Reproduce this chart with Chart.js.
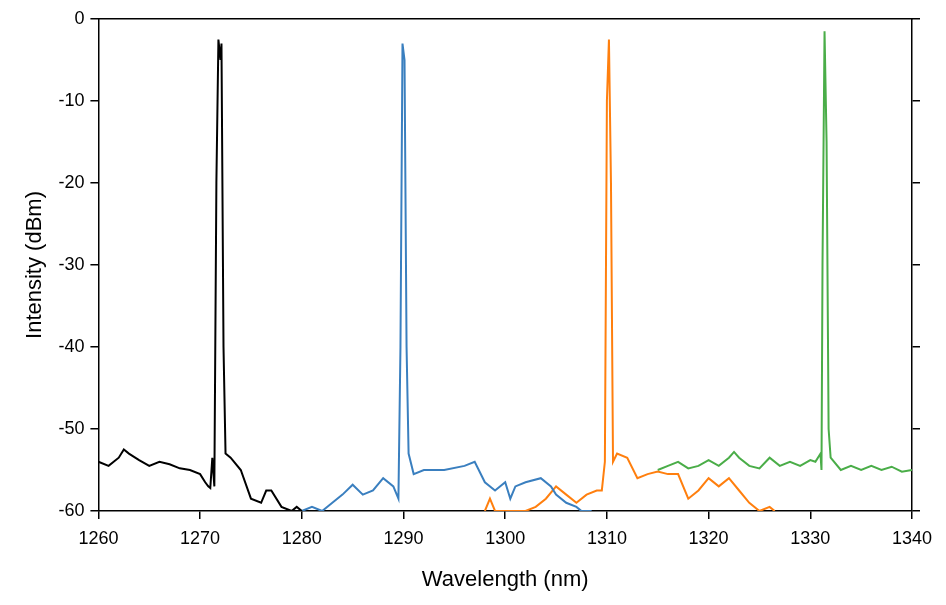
<!DOCTYPE html>
<html><head><meta charset="utf-8">
<script src="https://cdn.jsdelivr.net/npm/chart.js@4"></script>
<style>body{margin:0;background:#fff}#wrap{width:946px;height:605px}</style>
</head><body><div id="wrap"><canvas id="c"></canvas></div>
<script>
const xTicks = [1260, 1270, 1280, 1290, 1300, 1310, 1320, 1330, 1340];
const yTicks = [0, -10, -20, -30, -40, -50, -60];

const blackX = [1260,1261,1262,1262.5,1263,1264,1265,1266,1267,1268,1269,1270,1270.5,1270.8,1271,1271.2,1271.4,1271.6,1271.8,1272,1272.1,1272.3,1272.5,1273,1274,1275,1276,1276.5,1277,1278,1279,1279.5,1280];
const blackY = [-54,-54.5,-53.5,-52.5,-53,-53.8,-54.5,-54,-54.3,-54.8,-55,-55.5,-56.5,-57,-57.2,-53.5,-57,-20,-2.5,-5,-3,-40,-53,-53.5,-55,-58.5,-59,-57.5,-57.5,-59.5,-60,-59.5,-60];

const blueX = [1280,1281,1282,1283,1284,1285,1286,1287,1288,1289,1289.5,1289.7,1289.9,1290.1,1290.3,1290.5,1291,1292,1294,1296,1297,1298,1299,1300,1300.5,1301,1302,1303.5,1304.5,1305,1306,1307,1307.5,1308.5];
const blueY = [-60,-59.5,-60,-59,-58,-56.8,-58,-57.5,-56,-57,-58.5,-40,-3,-5,-40,-53,-55.5,-55,-55,-54.5,-54,-56.5,-57.5,-56.5,-58.5,-57,-56.5,-56,-57,-58,-59,-59.5,-60,-60];

const orangeX = [1298,1298.5,1299,1300,1302,1303,1304,1305,1306,1307,1308,1309,1309.5,1309.8,1310,1310.2,1310.4,1310.6,1311,1312,1313,1314,1315,1316,1317,1318,1319,1320,1321,1322,1323,1324,1325,1326,1326.5];
const orangeY = [-60,-58.5,-60,-60,-60,-59.5,-58.5,-57,-58,-59,-58,-57.5,-57.5,-54,-10,-2.5,-20,-54,-53,-53.5,-56,-55.5,-55.2,-55.5,-55.5,-58.5,-57.5,-56,-57,-56,-57.5,-59,-60,-59.5,-60];

const greenX = [1315,1316,1317,1318,1319,1320,1321,1322,1322.5,1323,1324,1325,1326,1327,1328,1329,1330,1330.5,1331,1331.1,1331.2,1331.4,1331.6,1331.8,1332,1333,1334,1335,1336,1337,1338,1339,1340];
const greenY = [-55,-54.5,-54,-54.8,-54.5,-53.8,-54.5,-53.5,-52.8,-53.5,-54.5,-54.8,-53.5,-54.5,-54,-54.5,-53.8,-54,-53,-55,-30,-1.5,-15,-50,-53.5,-55,-54.5,-55,-54.5,-55,-54.6,-55.2,-55];

function pts(xs, ys) { return xs.map((x, i) => ({ x, y: ys[i] })); }
function ds(xs, ys, color) {
    return { data: pts(xs, ys), borderColor: color, borderWidth: 2, pointRadius: 0, tension: 0, fill: false };
}

const tickFont = { family: 'Liberation Sans, Arial', size: 18 };
const titleFont = { family: 'Liberation Sans, Arial', size: 22 };

new Chart(document.getElementById('c'), {
    type: 'line',
    data: {
        datasets: [
            ds(blackX, blackY, '#000000'),
            ds(blueX, blueY, '#3a7fbf'),
            ds(orangeX, orangeY, '#ff7f0e'),
            ds(greenX, greenY, '#4aad48')
        ]
    },
    options: {
        animation: false,
        responsive: true,
        maintainAspectRatio: false,
        layout: { padding: { top: 19, right: 26, left: 18, bottom: 12 } },
        plugins: { legend: { display: false }, tooltip: { enabled: false } },
        scales: {
            x: {
                type: 'linear', min: 1260, max: 1340,
                afterBuildTicks: a => { a.ticks = xTicks.map(v => ({ value: v })); },
                grid: { drawOnChartArea: false, color: '#000', tickLength: 8, lineWidth: 1.5 },
                border: { color: '#000', width: 1.5 },
                ticks: { color: '#000', font: tickFont, maxRotation: 0, padding: 9, callback: v => String(v) },
                title: { display: true, text: 'Wavelength (nm)', color: '#000', font: titleFont, padding: { top: 8, bottom: 0 } }
            },
            x2: {
                type: 'linear', position: 'top', min: 1260, max: 1340,
                afterBuildTicks: a => { a.ticks = xTicks.map(v => ({ value: v })); },
                grid: { drawOnChartArea: false, color: '#000', tickLength: 0 },
                border: { color: '#000', width: 1.5 },
                ticks: { display: false }
            },
            y: {
                min: -60, max: 0,
                afterBuildTicks: a => { a.ticks = yTicks.map(v => ({ value: v })); },
                grid: { drawOnChartArea: false, color: '#000', tickLength: 8, lineWidth: 1.5 },
                border: { color: '#000', width: 1.5 },
                ticks: { color: '#000', font: tickFont, padding: 6 },
                title: { display: true, text: 'Intensity (dBm)', color: '#000', font: titleFont }
            },
            y2: {
                position: 'right', min: -60, max: 0,
                afterBuildTicks: a => { a.ticks = yTicks.map(v => ({ value: v })); },
                grid: { drawOnChartArea: false, color: '#000', tickLength: 8, lineWidth: 1.5 },
                border: { color: '#000', width: 1.5 },
                ticks: { display: false }
            }
        }
    }
});
</script></body></html>
